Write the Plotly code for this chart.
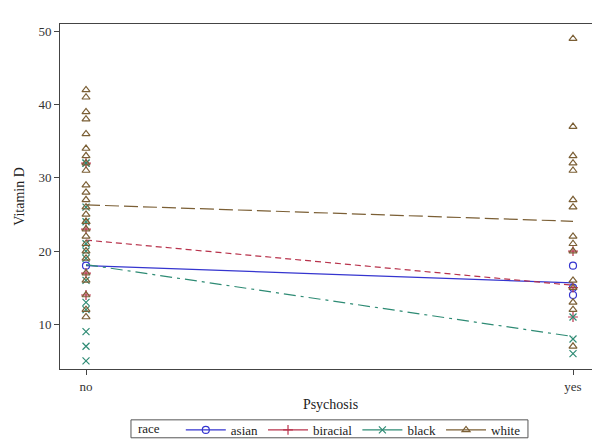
import plotly.graph_objects as go

# Vitamin D values, per race and psychosis group
groups = ["no", "yes"]
races = ["asian", "biracial", "black", "white"]

asian_no = [18]
asian_yes = [18, 15, 14]

biracial_no = [32, 23, 17, 14]
biracial_yes = [20, 15, 11]

black_no = [32, 32, 26, 24, 21, 20, 19, 16, 13, 12, 9, 7, 5]
black_yes = [11, 8, 6]

white_no = [42, 41, 39, 38, 36, 34, 33, 32, 31, 29, 28, 27, 26, 25, 24, 24,
            23, 22, 21, 20, 19, 17, 16, 14, 12, 11]
white_yes = [49, 37, 33, 32, 31, 27, 26, 22, 21, 20, 16, 15, 13, 12, 7]

data = {
    "asian": (asian_no, asian_yes),
    "biracial": (biracial_no, biracial_yes),
    "black": (black_no, black_yes),
    "white": (white_no, white_yes),
}

styles = {
    "asian": dict(color="#3535CF", dash="solid", symbol="circle-open"),
    "biracial": dict(color="#B8334C", dash="6px,4px", symbol="cross-thin-open"),
    "black": dict(color="#2E8B74", dash="12px,5px,3px,5px", symbol="x-thin-open"),
    "white": dict(color="#7B5F35", dash="14px,5px", symbol="triangle-up-open"),
}

FONT = "Liberation Serif"

fig = go.Figure()

for race in races:
    no_vals, yes_vals = data[race]
    st = styles[race]

    # individual observations
    fig.add_trace(
        go.Scatter(
            x=[0] * len(no_vals) + [1] * len(yes_vals),
            y=no_vals + yes_vals,
            mode="markers",
            marker=dict(symbol=st["symbol"], size=7, color=st["color"],
                        line=dict(width=1.2, color=st["color"])),
            showlegend=False,
            hoverinfo="y",
        )
    )

    # group means
    means = [sum(no_vals) / len(no_vals), sum(yes_vals) / len(yes_vals)]
    fig.add_trace(
        go.Scatter(
            x=[0, 1],
            y=means,
            mode="lines",
            line=dict(color=st["color"], width=1.2, dash=st["dash"]),
            showlegend=False,
        )
    )

    # legend entry
    fig.add_trace(
        go.Scatter(
            x=[None],
            y=[None],
            mode="lines+markers",
            name=race,
            line=dict(color=st["color"], width=1.2),
            marker=dict(symbol=st["symbol"], size=7, color=st["color"],
                        line=dict(width=1.2, color=st["color"])),
        )
    )

# legend frame and "race" label drawn by hand so the box stays slim
fig.add_shape(
    type="rect", xref="paper", yref="paper",
    x0=0.1312, x1=0.865, y0=-0.1994, y1=-0.1474,
    line=dict(color="#555555", width=1), fillcolor="rgba(0,0,0,0)",
)
fig.add_annotation(
    text="race", xref="paper", yref="paper",
    x=0.1405, y=-0.1734, xanchor="left", yanchor="middle",
    showarrow=False, font=dict(family=FONT, size=13, color="#222222"),
)

fig.update_layout(
    width=600,
    height=443,
    margin=dict(l=52, r=7, t=16, b=81),
    paper_bgcolor="white",
    plot_bgcolor="white",
    font=dict(family=FONT, size=13, color="#333333"),
    showlegend=True,
    legend=dict(
        orientation="h",
        x=0.861,
        xanchor="right",
        y=-0.1734,
        yanchor="middle",
        font=dict(family=FONT, size=13, color="#222222"),
        bgcolor="rgba(0,0,0,0)",
        borderwidth=0,
        itemwidth=40,
        tracegroupgap=0,
    ),
)

fig.update_xaxes(
    range=[-0.0534, 1.0575],
    tickvals=[0, 1],
    ticktext=groups,
    ticks="outside",
    ticklen=5,
    tickcolor="#444444",
    showline=True,
    linecolor="#444444",
    linewidth=1,
    mirror=True,
    showgrid=False,
    zeroline=False,
    title=dict(text="Psychosis", font=dict(family=FONT, size=14, color="#222222"), standoff=6),
)

fig.update_yaxes(
    range=[3.9, 51.0],
    tickvals=[10, 20, 30, 40, 50],
    ticks="outside",
    ticklen=5,
    tickcolor="#444444",
    showline=True,
    linecolor="#444444",
    linewidth=1,
    mirror=True,
    showgrid=False,
    zeroline=False,
    title=dict(text="Vitamin D", font=dict(family=FONT, size=14, color="#222222"), standoff=10),
)

fig.write_html("out.html")
